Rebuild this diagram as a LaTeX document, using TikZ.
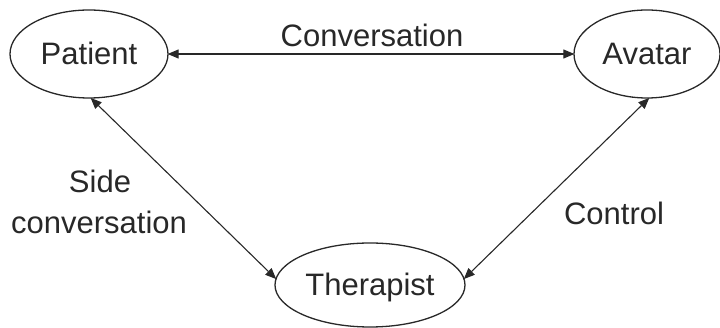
\documentclass[tikz,border=0pt]{standalone}
\usepackage{fontspec}
\setmainfont{Liberation Sans}
\usetikzlibrary{shapes.geometric,arrows.meta}
\definecolor{ink}{RGB}{40,40,40}
\begin{document}
\begin{tikzpicture}[x=1pt,y=-1pt,
  every node/.style={font=\fontsize{31}{37}\selectfont, text=ink, text height=22pt, text depth=0pt, inner sep=0pt},
  state/.style={ellipse, draw=ink, line width=1.3pt, minimum height=88pt},
  link/.style={draw=ink, line width=1.1pt, {Triangle[length=11pt,width=9pt]}-{Triangle[length=11pt,width=9pt]}, shorten <=-1pt, shorten >=-1pt},
  lbl/.style={anchor=center}]
\useasboundingbox (0,0) rectangle (720,328);
\clip (0,0) rectangle (720,328);
\node[state, minimum width=158pt] (P) at (89,54) {Patient};
\node[state, minimum width=146pt] (A) at (647,54) {Avatar};
\node[state, minimum width=190pt, minimum height=84pt] (T) at (370,285) {Therapist};
\draw[link] (P.east) -- (A.west);
\draw[link] (P.-87) -- (T.176);
\draw[link] (A.-88) -- (T.4);
\node[lbl] (conv) at (372,36) {Conversation};
\node[lbl] (side1) at (100,182) {Side};
\node[lbl] (side2) at (99,223) {conversation};
\node[lbl] (ctrl) at (614,214) {Control};
\end{tikzpicture}
\end{document}
